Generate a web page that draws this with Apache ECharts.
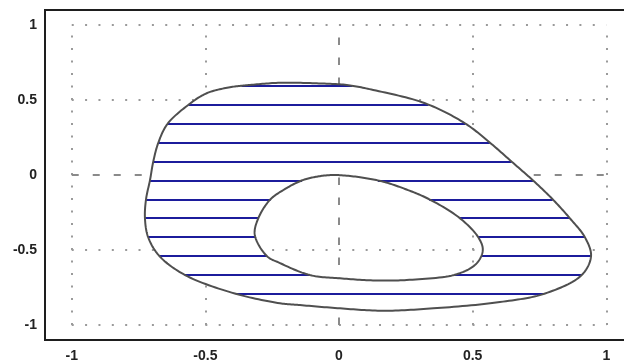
<!DOCTYPE html>
<html><head><meta charset="utf-8">
<script src="https://cdn.jsdelivr.net/npm/echarts@6/dist/echarts.min.js"></script>
<style>html,body{margin:0;padding:0;background:#fff}#c{width:624px;height:363px}</style>
</head><body><div id="c"></div>
<script>
// ---- data ----
const xTicks = [-1, -0.5, 0, 0.5, 1];
const yTicks = [-1, -0.5, 0, 0.5, 1];

const outerX = [-0.333,-0.221,-0.083,0.029,0.128,0.322,0.471,0.565,0.646,0.727,0.800,0.864,0.920,0.943,0.908,0.771,0.602,0.353,0.166,0.004,-0.146,-0.221,-0.390,-0.576,-0.672,-0.714,-0.726,-0.722,-0.707,-0.695,-0.676,-0.642,-0.564,-0.495,-0.408];
const outerY = [0.600,0.615,0.611,0.600,0.567,0.478,0.345,0.215,0.089,-0.038,-0.163,-0.289,-0.415,-0.540,-0.667,-0.790,-0.847,-0.889,-0.905,-0.889,-0.867,-0.855,-0.790,-0.667,-0.540,-0.415,-0.289,-0.162,-0.033,0.089,0.215,0.340,0.467,0.545,0.585];

const innerX = [-0.020,0.079,0.166,0.247,0.338,0.453,0.521,0.538,0.515,0.440,0.253,0.135,0.004,-0.109,-0.221,-0.270,-0.315,-0.302,-0.258,-0.208,-0.140,-0.083];
const innerY = [0.000,-0.015,-0.045,-0.093,-0.162,-0.289,-0.415,-0.500,-0.589,-0.662,-0.700,-0.703,-0.689,-0.667,-0.587,-0.540,-0.400,-0.289,-0.165,-0.100,-0.037,-0.011];

const hatchY = [0.595,0.469,0.343,0.216,0.090,-0.036,-0.162,-0.288,-0.414,-0.540,-0.666,-0.792];

// ---- helpers ----
// centripetal Catmull-Rom through the read points (closed); x stretched for knot spacing only
function smoothClosed(xs, ys, n) {
  const N = xs.length, out = [], sx = 1.78;
  const knot = (a, b) => Math.pow(Math.hypot((b[0] - a[0]) * sx, b[1] - a[1]), 0.5) || 1e-6;
  const lerp = (a, b, ta, tb, t) => [(tb - t) / (tb - ta) * a[0] + (t - ta) / (tb - ta) * b[0], (tb - t) / (tb - ta) * a[1] + (t - ta) / (tb - ta) * b[1]];
  for (let i = 0; i < N; i++) {
    const P0 = [xs[(i - 1 + N) % N], ys[(i - 1 + N) % N]], P1 = [xs[i], ys[i]],
          P2 = [xs[(i + 1) % N], ys[(i + 1) % N]], P3 = [xs[(i + 2) % N], ys[(i + 2) % N]];
    const t0 = 0, t1 = t0 + knot(P0, P1), t2 = t1 + knot(P1, P2), t3 = t2 + knot(P2, P3);
    for (let k = 0; k < n; k++) {
      const t = t1 + (t2 - t1) * k / n;
      const A1 = lerp(P0, P1, t0, t1, t), A2 = lerp(P1, P2, t1, t2, t), A3 = lerp(P2, P3, t2, t3, t);
      const B1 = lerp(A1, A2, t0, t2, t), B2 = lerp(A2, A3, t1, t3, t);
      out.push(lerp(B1, B2, t1, t2, t));
    }
  }
  return out;
}
const outerPts = smoothClosed(outerX, outerY, 16);
const innerPts = smoothClosed(innerX, innerY, 16);

function crossings(pts, y) {
  const xs = [];
  for (let i = 0; i < pts.length; i++) {
    const a = pts[i], b = pts[(i + 1) % pts.length];
    if ((a[1] <= y && b[1] > y) || (b[1] <= y && a[1] > y)) {
      xs.push(a[0] + (y - a[1]) * (b[0] - a[0]) / (b[1] - a[1]));
    }
  }
  return xs;
}
const hatchSegs = [];
hatchY.forEach(y => {
  const xs = crossings(outerPts, y).concat(crossings(innerPts, y)).sort((a, b) => a - b);
  for (let i = 0; i + 1 < xs.length; i += 2) hatchSegs.push({ coords: [[xs[i], y], [xs[i + 1], y]] });
});

const dotH = [], dotV = [], dashH = [], dashV = [];
yTicks.forEach(v => (v === 0 ? dashH : dotH).push({ coords: [[xTicks[0], v], [xTicks[xTicks.length - 1], v]] }));
xTicks.forEach(v => (v === 0 ? dashV : dotV).push({ coords: [[v, yTicks[0]], [v, yTicks[yTicks.length - 1]]] }));

function toPath(api, pts, reverse) {
  const p = reverse ? pts.slice().reverse() : pts;
  return p.map((q, i) => { const c = api.coord(q); return (i ? 'L' : 'M') + c[0].toFixed(2) + ' ' + c[1].toFixed(2); }).join(' ') + ' Z';
}

const fmt = v => {
  const r = Math.round(v * 2) / 2;
  return (Math.abs(v - r) < 1e-6 && Math.abs(r) <= 1) ? String(r) : '';
};
const labelStyle = { fontFamily: 'Liberation Sans, Arial, sans-serif', fontWeight: 'bold', fontSize: 14, color: '#222' };

const chart = echarts.init(document.getElementById('c'), null, { renderer: 'canvas' });
chart.setOption({
  animation: false,
  backgroundColor: '#fff',
  grid: { left: 45, top: 10, width: 588, height: 330, show: true, borderColor: '#1e1e1e', borderWidth: 2, outerBoundsMode: 'none', containLabel: false },
  xAxis: { type: 'value', min: -1.1, max: 1.1, interval: 0.1, axisLine: { show: false }, axisTick: { show: false }, splitLine: { show: false },
    axisLabel: Object.assign({ formatter: fmt, margin: 9 }, labelStyle) },
  yAxis: { type: 'value', min: -1.1, max: 1.1, interval: 0.1, axisLine: { show: false }, axisTick: { show: false }, splitLine: { show: false },
    axisLabel: Object.assign({ formatter: fmt, margin: 8 }, labelStyle) },
  series: [
    { type: 'lines', coordinateSystem: 'cartesian2d', z: 1, silent: true, data: dotH,
      lineStyle: { color: '#9a9a9a', width: 2, type: [2, 11.36], opacity: 1 } },
    { type: 'lines', coordinateSystem: 'cartesian2d', z: 1, silent: true, data: dotV,
      lineStyle: { color: '#9a9a9a', width: 2, type: [2, 10.5], opacity: 1 } },
    { type: 'lines', coordinateSystem: 'cartesian2d', z: 1, silent: true, data: dashH,
      lineStyle: { color: '#8a8a8a', width: 2, type: [7, 14], opacity: 1 } },
    { type: 'lines', coordinateSystem: 'cartesian2d', z: 1, silent: true, data: dashV,
      lineStyle: { color: '#8a8a8a', width: 2, type: [7.5, 12.5], opacity: 1 } },
    { type: 'custom', z: 2, silent: true, data: [[0, 0]],
      renderItem: (params, api) => ({ type: 'path', shape: { pathData: toPath(api, outerPts, false) + ' ' + toPath(api, innerPts, true) },
        style: { fill: '#ffffff', stroke: null } }) },
    { type: 'lines', coordinateSystem: 'cartesian2d', z: 3, silent: true, data: hatchSegs,
      lineStyle: { color: '#1c1c9c', width: 1.8, type: 'solid', opacity: 1 } },
    { type: 'custom', z: 4, silent: true, data: [[0, 0]],
      renderItem: (params, api) => ({ type: 'path', shape: { pathData: toPath(api, outerPts, false) + ' ' + toPath(api, innerPts, false) },
        style: { fill: null, stroke: '#4f4f4f', lineWidth: 2, lineJoin: 'round' } }) }
  ]
});
</script>
</body></html>
